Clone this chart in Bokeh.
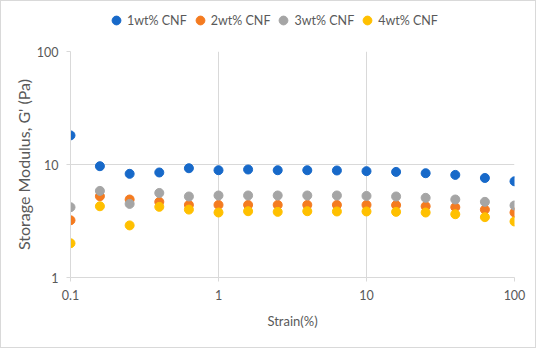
from bokeh.plotting import figure
from bokeh.models import Legend, LegendItem, FixedTicker, ColumnDataSource, CustomJSTickFormatter
from bokeh.layouts import column
from bokeh.embed import file_html
from bokeh.resources import INLINE

strain = [0.1, 0.158, 0.251, 0.398, 0.631, 1.0, 1.585, 2.512, 3.98, 6.31,
          10.0, 15.85, 25.1, 39.8, 63.1, 100.0]
g_1wt = [18.1, 9.66, 8.27, 8.5, 9.27, 8.9, 9.03, 8.9, 8.9, 8.85,
         8.73, 8.6, 8.37, 8.09, 7.6, 7.1]
g_2wt = [3.21, 5.24, 4.9, 4.67, 4.39, 4.39, 4.39, 4.39, 4.39, 4.39,
         4.39, 4.37, 4.27, 4.19, 3.99, 3.76]
g_3wt = [4.19, 5.84, 4.48, 5.6, 5.21, 5.32, 5.32, 5.32, 5.32, 5.32,
         5.27, 5.21, 5.07, 4.9, 4.67, 4.34]
g_4wt = [2.01, 4.27, 2.89, 4.22, 3.99, 3.76, 3.86, 3.81, 3.86, 3.84,
         3.84, 3.81, 3.76, 3.63, 3.42, 3.13]
series_names = ["1wt% CNF", "2wt% CNF", "3wt% CNF", "4wt% CNF"]
series_colors = ["#1769C9", "#F47B20", "#A5A5A5", "#FFC000"]
x_ticks = [0.1, 1, 10, 100]
y_ticks = [1, 10, 100]

FONT = "Lato"
TXT = "#595959"
GRID = "#D9D9D9"

# legend strip on top
pl = figure(width=534, height=42, x_range=(0, 1), y_range=(0, 1),
            output_backend="svg", toolbar_location=None, min_border=0)
pl.axis.visible = False
pl.grid.visible = False
pl.outline_line_color = None

p = figure(width=534, height=304, x_axis_type="log", y_axis_type="log",
           x_range=(0.1, 100), y_range=(1, 100),
           output_backend="svg", toolbar_location=None,
           min_border_left=69, min_border_right=21,
           min_border_top=8, min_border_bottom=70)
p.outline_line_color = None

items = []
for name, col, vals in zip(series_names, series_colors, [g_1wt, g_2wt, g_3wt, g_4wt]):
    src = ColumnDataSource(dict(x=strain, y=vals))
    p.scatter("x", "y", source=src, size=9, fill_color=col, line_color=col)
    rl = pl.scatter("x", "y", source=src, size=9, fill_color=col, line_color=col,
                    visible=False)
    items.append(LegendItem(label=name, renderers=[rl]))

for ax, ticks in ((p.xaxis, x_ticks), (p.yaxis, y_ticks)):
    ax.ticker = FixedTicker(ticks=ticks)
    ax.minor_tick_line_color = None
    ax.major_tick_in = 0
    ax.major_tick_out = 4
    ax.major_tick_line_color = GRID
    ax.axis_line_color = GRID
    ax.axis_line_width = 1
    ax.major_label_text_font = FONT
    ax.major_label_text_font_size = "12.5px"
    ax.major_label_text_color = TXT
    ax.axis_label_text_font = FONT
    ax.axis_label_text_font_size = "13px"
    ax.axis_label_text_color = TXT
    ax.axis_label_text_font_style = "normal"
    ax.formatter = CustomJSTickFormatter(code="return String(tick);")

p.xaxis.axis_label = "Strain(%)"
p.yaxis.axis_label = "Storage Modulus, G' (Pa)"
p.yaxis.axis_label_text_font_size = "16px"
p.xaxis.major_label_standoff = 8
p.xaxis.axis_label_standoff = 10
p.yaxis.major_label_standoff = 8
p.yaxis.axis_label_standoff = 1

p.xgrid.ticker = FixedTicker(ticks=x_ticks)
p.ygrid.ticker = FixedTicker(ticks=y_ticks)
p.xgrid.grid_line_color = GRID
p.ygrid.grid_line_color = GRID

legend = Legend(items=items, orientation="horizontal", location=(35, 12),
                label_text_font=FONT, label_text_font_size="12.5px",
                label_text_color=TXT, glyph_width=22, glyph_height=22,
                label_standoff=0, spacing=2, border_line_color=None,
                background_fill_alpha=0, padding=0, margin=0)
pl.add_layout(legend, "center")

lay = column(pl, p, spacing=0,
             styles={"border": "1px solid #D9D9D9", "box-sizing": "border-box"})

open("out.html", "w").write(file_html(lay, INLINE))
